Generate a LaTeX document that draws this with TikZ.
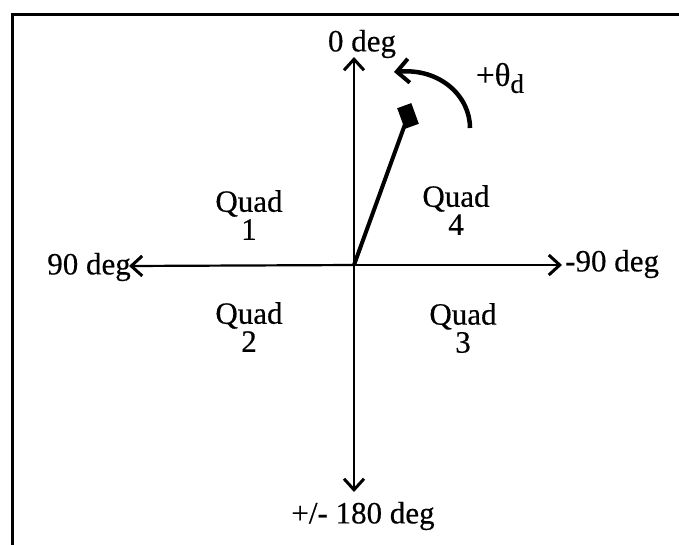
\documentclass[tikz,border=0pt]{standalone}
\usepackage{fontspec}
\setmainfont{Liberation Serif}[UprightFeatures={FakeBold=0.4}]
\usetikzlibrary{arrows.meta}
\begin{document}
\begin{tikzpicture}[x=1pt,y=-1pt,
  lbl/.style={inner sep=0pt,font=\fontsize{31}{28}\selectfont},
  quad/.style={lbl,align=center},
  axis/.style={line width=2.2pt,-{Straight Barb[length=11pt,width=20pt,line width=3pt]}},
  thickarrow/.style={line width=4.5pt,-{Straight Barb[length=12pt,width=24pt,line width=4pt]}}]
\useasboundingbox (0,0) rectangle (679,544);
\draw[line width=3pt] (12,546) -- (12,14) -- (681,14);
\coordinate (O) at (354,265);
\coordinate (top) at (354,57);
\coordinate (bot) at (354,492);
\coordinate (lft) at (129,266);
\coordinate (rgt) at (562,265);
\draw[axis] (O) -- (top);
\draw[axis] (O) -- (bot);
\draw[axis] (O) -- (lft);
\draw[axis] (O) -- (rgt);
\node[lbl,anchor=center] (t0) at (362,44) {0 deg};
\node[lbl,anchor=east] (t90) at (131,267) {90 deg};
\node[lbl,anchor=west] (tm90) at (565,264) {-90 deg};
\node[lbl,anchor=center] (t180) at (363,516) {+/- 180 deg};
\node[lbl,anchor=center,font=\fontsize{33}{30}\selectfont] (theta) at (500,78) {+θ\raisebox{-7pt}{\fontsize{27}{27}\selectfont d}};
\node[quad] (q1) at (249,215) {Quad\\1};
\node[quad] (q4) at (456,210) {Quad\\4};
\node[quad] (q2) at (249,327) {Quad\\2};
\node[quad] (q3) at (463,328) {Quad\\3};
\coordinate (tipc) at (408,116);
\draw[line width=4pt] (O) -- (tipc);
\node[fill=black,draw=none,minimum width=22pt,minimum height=15pt,inner sep=0pt,rotate=-70] (blk) at (tipc) {};
\coordinate (as) at (470,128);
\coordinate (ae) at (394,72);
\draw[thickarrow] (as) .. controls (470,96) and (440,68) .. (ae);
\end{tikzpicture}
\end{document}
